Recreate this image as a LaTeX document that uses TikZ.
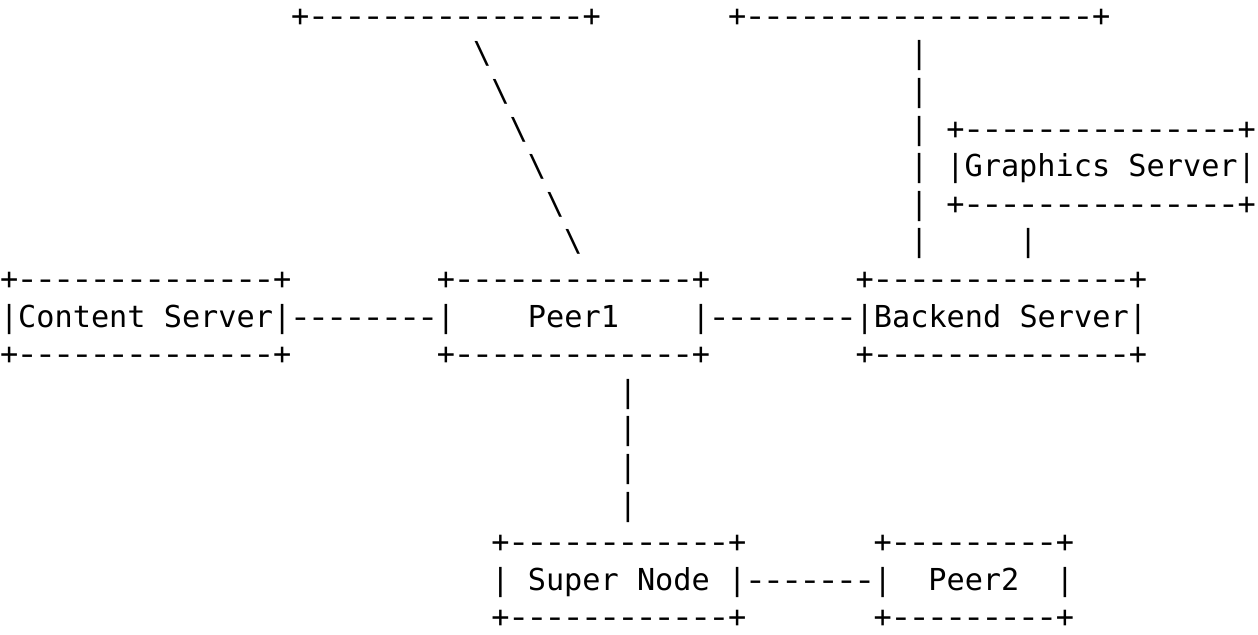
\documentclass[tikz,border=0pt]{standalone}
\usepackage{fontspec}
\newfontfamily\asciifont{DejaVu Sans Mono}
\usepackage{graphicx}
\usepackage{tikz}
\usetikzlibrary{positioning}

% one hyphen cell, drawn a bit wider as in the reference font
\newcommand\hy{\sbox0{-}\makebox[\wd0]{\scalebox{1.25}[1]{-}}}
\newcommand\dashes[1]{\foreach\k in {1,...,#1}{\hy}}

\begin{document}
\begin{tikzpicture}[x=9.1pt, y=-18.8pt,
  ascii/.style={inner sep=0pt, outer sep=0pt, anchor=north west, align=left,
    font=\asciifont\fontsize{15.12pt}{18.8pt}\selectfont}]
  \useasboundingbox (0pt,0pt) rectangle (629pt,-317pt);

  % cut-off boxes at the top
  \node[ascii] (topleft) at (16,0) {\strut+\dashes{15}+};
  \node[ascii] (topright) at (40,0) {\strut+\dashes{19}+};

  % slanted link down to Peer1
  \foreach \i in {1,...,6}
    \node[ascii] (slant\i) at (25+\i,\i) {\strut\textbackslash};

  % link down to Backend Server
  \node[ascii] (bkdown) at (50,1) {\strut|\\\strut|\\\strut|\\\strut|\\\strut|\\\strut|};

  % Graphics Server
  \node[ascii] (graphics) at (52,3) {
    \strut+\dashes{15}+\\
    \strut|Graphics Server|\\
    \strut+\dashes{15}+};
  \node[ascii] (gfxdown) at (56,6) {\strut|};

  % middle row
  \node[ascii] (content) at (0,7) {
    \strut+\dashes{14}+\\
    \strut|Content Server|\\
    \strut+\dashes{14}+};
  \node[ascii, right=0pt of content] (content2peer) {\strut\dashes{8}};
  \node[ascii, right=0pt of content2peer] (peer1) {
    \strut+\dashes{13}+\\
    \strut|~~~~Peer1~~~~|\\
    \strut+\dashes{13}+};
  \node[ascii, right=0pt of peer1] (peer2backend) {\strut\dashes{8}};
  \node[ascii, right=0pt of peer2backend] (backend) {
    \strut+\dashes{14}+\\
    \strut|Backend Server|\\
    \strut+\dashes{14}+};

  % link down to Super Node
  \node[ascii] (peerdown) at (34,10) {\strut|\\\strut|\\\strut|\\\strut|};

  % bottom row
  \node[ascii] (super) at (27,14) {
    \strut+\dashes{12}+\\
    \strut|~Super~Node~|\\
    \strut+\dashes{12}+};
  \node[ascii, right=0pt of super] (super2peer) {\strut\dashes{7}};
  \node[ascii, right=0pt of super2peer] (peer2) {
    \strut+\dashes{9}+\\
    \strut|~~Peer2~~|\\
    \strut+\dashes{9}+};
\end{tikzpicture}
\end{document}
